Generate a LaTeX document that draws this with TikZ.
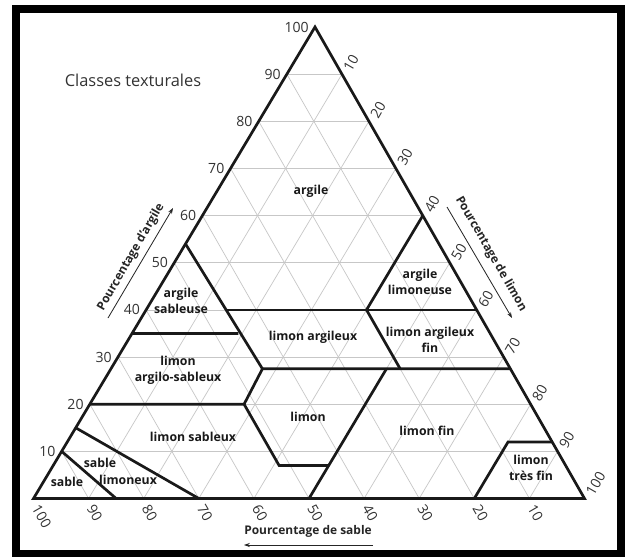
\documentclass[tikz,border=0pt]{standalone}
\usepackage{fontspec}
\setmainfont{Open Sans}
\usetikzlibrary{arrows.meta}
\tikzset{
    grille/.style={draw=black!22, line width=0.6pt},
    limite/.style={draw=black!90, line width=2.3pt, line join=miter},
    num/.style={font=\fontsize{12}{14}\selectfont, text=black!80, inner sep=0pt},
    classe/.style={font=\bfseries\fontsize{10.5}{14}\selectfont, text=black!90, align=center, inner sep=1pt},
    axe/.style={font=\bfseries\fontsize{10.2}{12}\selectfont, text=black!85, inner sep=0pt},
    fleche/.style={-{Stealth[length=5pt,width=3.5pt]}, line width=0.7pt, draw=black!85}
}
\begin{document}
\begin{tikzpicture}[x=0.03cm,y=-0.03cm]
        %Frame
            \fill[white] (0,0) rectangle (625,557);
            \draw[line width=6.5pt] (16.2,8.9) rectangle (621,553.5);
        %Corners
            \coordinate (sand) at (33.5,498.5);
            \coordinate (silt) at (584.5,498.5);
            \coordinate (clay) at (315,27);
        %Grid
            \foreach \i [evaluate=\i as \a using \i/100, evaluate=\i as \b using 1-\i/100] in {10,20,...,90}{
                \draw[grille] (barycentric cs:sand=\b,silt=0,clay=\a) -- (barycentric cs:sand=0,silt=\b,clay=\a);
                \draw[grille] (barycentric cs:sand=\a,silt=\b,clay=0) -- (barycentric cs:sand=\a,silt=0,clay=\b);
                \draw[grille] (barycentric cs:sand=\b,silt=\a,clay=0) -- (barycentric cs:sand=0,silt=\a,clay=\b);
            }
        %Ticks
            \foreach \i [evaluate=\i as \a using \i/100, evaluate=\i as \b using 1-\i/100] in {10,20,...,100}{
                \node[num, anchor=east] (c\i) at ([shift={(-6,0)}]barycentric cs:sand=\b,silt=0,clay=\a) {\i};
                \node[num, anchor=west, rotate=60] (l\i) at ([shift={(5,-4)}]barycentric cs:sand=0,silt=\a,clay=\b) {\i};
                \node[num, anchor=west, rotate=-60] (s\i) at ([shift={(2,7)}]barycentric cs:sand=\a,silt=\b,clay=0) {\i};
            }
        %Class limits
            \coordinate (p1) at (barycentric cs:sand=.9,silt=0,clay=.1);
            \coordinate (p2) at (barycentric cs:sand=.85,silt=.15,clay=0);
            \coordinate (p3) at (barycentric cs:sand=.85,silt=0,clay=.15);
            \coordinate (p4) at (barycentric cs:sand=.7,silt=.3,clay=0);
            \coordinate (p5) at (barycentric cs:sand=.8,silt=0,clay=.2);
            \coordinate (p6) at (barycentric cs:sand=.52,silt=.28,clay=.2);
            \coordinate (p7) at (barycentric cs:sand=.52,silt=.41,clay=.07);
            \coordinate (p8) at (barycentric cs:sand=.43,silt=.5,clay=.07);
            \coordinate (p9) at (barycentric cs:sand=.5,silt=.5,clay=0);
            \coordinate (p10) at (barycentric cs:sand=.65,silt=0,clay=.35);
            \coordinate (p11) at (barycentric cs:sand=.457,silt=.193,clay=.35);
            \coordinate (p12) at (barycentric cs:sand=.46,silt=0,clay=.54);
            \coordinate (p13) at (barycentric cs:sand=.455,silt=.145,clay=.4);
            \coordinate (p14) at (barycentric cs:sand=.45,silt=.275,clay=.275);
            \coordinate (p15) at (barycentric cs:sand=0,silt=.6,clay=.4);
            \coordinate (p16) at (barycentric cs:sand=0,silt=.725,clay=.275);
            \coordinate (p17) at (barycentric cs:sand=0,silt=.4,clay=.6);
            \coordinate (p18) at (barycentric cs:sand=.2,silt=.4,clay=.4);
            \coordinate (p19) at (barycentric cs:sand=.2,silt=.525,clay=.275);
            \coordinate (p20) at (barycentric cs:sand=.225,silt=.5,clay=.275);
            \coordinate (p21) at (barycentric cs:sand=.2,silt=.8,clay=0);
            \coordinate (p22) at (barycentric cs:sand=.08,silt=.8,clay=.12);
            \coordinate (p23) at (barycentric cs:sand=0,silt=.88,clay=.12);
            \draw[limite] (p1) -- (p2);
            \draw[limite] (p3) -- (p4);
            \draw[limite] (p5) -- (p6) -- (p7) -- (p8);
            \draw[limite] (p9) -- (p20);
            \draw[limite] (p10) -- (p11);
            \draw[limite] (p12) -- (p14) -- (p6);
            \draw[limite] (p13) -- (p15);
            \draw[limite] (p14) -- (p16);
            \draw[limite] (p17) -- (p18) -- (p19);
            \draw[limite] (p21) -- (p22) -- (p23);
        %Triangle
            \draw[limite] (sand) -- (silt) -- (clay) -- cycle;
        %Classes
            \node[classe] (argile) at (311,191) {argile};
            \node[classe] (asab) at (181,301) {argile\\sableuse};
            \node[classe] (alim) at (420,282) {argile\\limoneuse};
            \node[classe] (larg) at (313,337) {limon argileux};
            \node[classe] (largf) at (430,340) {limon argileux\\fin};
            \node[classe] (lasab) at (178,370) {limon\\argilo-sableux};
            \node[classe] (limon) at (308,417) {limon};
            \node[classe] (lsab) at (193,437) {limon sableux};
            \node[classe] (lfin) at (427,431) {limon fin};
            \node[classe] (ltf) at (531,468) {limon\\très fin};
            \node[classe] (slim1) at (100,463) {sable};
            \node[classe] (slim2) at (128,480) {limoneux};
            \node[classe] (sable) at (67,482) {sable};
        %Title
            \node[font=\fontsize{14}{16}\selectfont, text=black!80] (titre) at (133,80) {Classes texturales};
        %Axis names
            \node[axe, rotate=60] (tcl) at (131,257) {Pourcentage d'argile};
            \coordinate (acl1) at (108,318);
            \coordinate (acl2) at (173,208);
            \draw[fleche] (acl1) -- (acl2);
            \node[axe, rotate=-60] (tli) at (491,254) {Pourcentage de limon};
            \coordinate (ali1) at (447,207);
            \coordinate (ali2) at (512,318);
            \draw[fleche] (ali1) -- (ali2);
            \node[axe] (tsa) at (308,531) {Pourcentage de sable};
            \coordinate (asa1) at (373,545);
            \coordinate (asa2) at (244,545);
            \draw[fleche] (asa1) -- (asa2);
\end{tikzpicture}
\end{document}
